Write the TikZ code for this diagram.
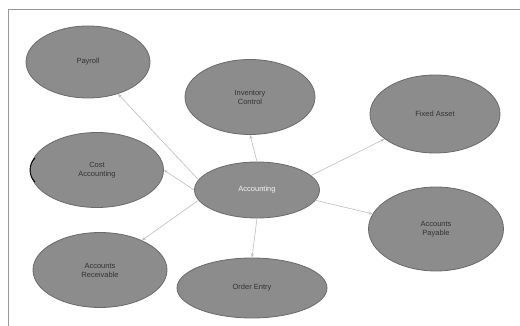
\documentclass[tikz,border=0pt]{standalone}
\usepackage{fontspec}
\setmainfont{Liberation Sans}
\usetikzlibrary{shapes.geometric,arrows.meta}
\definecolor{ellfill}{HTML}{8C8C8C}
\definecolor{elldraw}{HTML}{6A6A6A}
\definecolor{conn}{HTML}{BEBEBE}
\definecolor{txt}{HTML}{333333}
\tikzset{
  mod/.style={ellipse, fill=ellfill, draw=elldraw, line width=0.8pt, inner sep=0pt,
    font=\fontsize{7.5}{9}\selectfont, text=txt, align=center},
  conline/.style={draw=conn, line width=0.6pt, -{Stealth[length=4pt,width=3pt]}}
}
\begin{document}
\begin{tikzpicture}[x=1pt,y=-1pt]
\useasboundingbox (0,0) rectangle (520,326);
\fill[white] (0,0) rectangle (520,326);
\draw[draw=gray!80, line width=1pt] (8,326) -- (8,10) -- (520,10);
\node[mod, minimum width=124pt, minimum height=72pt] (pay) at (88,62) {Payroll};
\node[mod, minimum width=130pt, minimum height=75pt] (inv) at (250,97) {Inventory\\Control};
\node[mod, minimum width=130pt, minimum height=78pt] (fix) at (435,114) {Fixed Asset};
\node[mod, minimum width=133pt, minimum height=75pt] (cost) at (97,170) {Cost\\Accounting};
\node[mod, minimum width=125pt, minimum height=56pt, text=white!90!gray] (acc) at (257,190) {Accounting};
\node[mod, minimum width=135pt, minimum height=84pt] (ap) at (436,229) {Accounts\\Payable};
\node[mod, minimum width=134pt, minimum height=75pt] (ar) at (100,270) {Accounts\\Receivable};
\node[mod, minimum width=150pt, minimum height=60pt] (oe) at (252,288) {Order Entry};
\draw[black, line width=0.9pt] (35,158) arc[start angle=135, end angle=225, radius=17pt];
\draw[conline] (acc.170) -- (pay);
\draw[conline] (acc.north) -- (inv.south);
\draw[conline] (acc.15) -- (fix);
\draw[conline] (acc.-10) -- (ap);
\draw[conline] (acc.south) -- (oe.north);
\draw[conline] (acc.190) -- (ar);
\draw[conline] (acc.west) -- (cost.east);
\end{tikzpicture}
\end{document}
